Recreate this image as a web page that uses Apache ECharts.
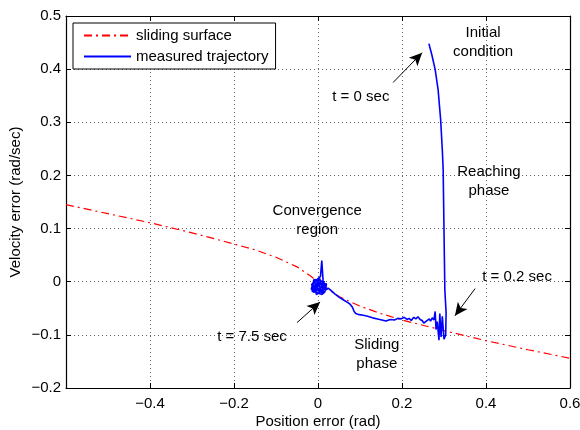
<!DOCTYPE html>
<html>
<head>
<meta charset="utf-8">
<script src="https://cdn.jsdelivr.net/npm/echarts@6/dist/echarts.min.js"></script>
<style>html,body{margin:0;padding:0;background:#fff}#c{width:580px;height:430px}</style>
</head>
<body>
<div id="c"></div>
<script>
// ---- data ----
var xTicks = [-0.6, -0.4, -0.2, 0, 0.2, 0.4, 0.6];
var yTicks = [-0.2, -0.1, 0, 0.1, 0.2, 0.3, 0.4, 0.5];

var surfaceX = [-0.6, -0.5, -0.4, -0.3, -0.2, -0.15, -0.1, -0.05, -0.02, 0, 0.02, 0.05, 0.1, 0.15, 0.2, 0.3, 0.4, 0.5, 0.6];
var surfaceY = [0.145, 0.128, 0.111, 0.092, 0.071, 0.060, 0.046, 0.028, 0.012, 0, -0.012, -0.028, -0.046, -0.060, -0.072, -0.092, -0.111, -0.128, -0.144];

var trajX = [0.264, 0.271, 0.279, 0.286, 0.292, 0.296, 0.298, 0.299, 0.301, 0.302, 0.305, 0.304, 0.300,
  0.296, 0.293, 0.290, 0.288, 0.284, 0.281, 0.279, 0.276, 0.272, 0.268,
  0.265, 0.258, 0.252, 0.248, 0.243, 0.238, 0.233, 0.228, 0.222, 0.217, 0.212, 0.205, 0.198, 0.190, 0.182, 0.172, 0.162, 0.152, 0.142, 0.130, 0.118, 0.108, 0.098, 0.090, 0.086, 0.082, 0.076, 0.070, 0.060, 0.050, 0.040, 0.030, 0.024,
  0.018, 0.020, -0.012, -0.016, 0.016, 0.019, -0.010, -0.014, 0.010, 0.012, 0.009, 0.006, -0.016, 0.018, -0.004, -0.008, 0.016, -0.014, 0.014, 0.004, -0.012, 0.020, -0.006, 0.002, 0.012, -0.010, 0.008, 0.000, 0.006];
var trajY = [0.448, 0.427, 0.399, 0.361, 0.305, 0.248, 0.211, 0.154, 0.041, -0.015, -0.058, -0.100, -0.108,
  -0.065, -0.104, -0.060, -0.110, -0.075, -0.090, -0.056, -0.072, -0.068, -0.074,
  -0.070, -0.074, -0.078, -0.073, -0.071, -0.066, -0.070, -0.067, -0.073, -0.069, -0.071, -0.067, -0.070, -0.069, -0.072, -0.071, -0.074, -0.072, -0.070, -0.068, -0.065, -0.063, -0.062, -0.060, -0.056, -0.048, -0.042, -0.039, -0.034, -0.029, -0.023, -0.016, -0.012,
  -0.016, -0.004, -0.002, -0.014, -0.020, -0.008, 0.004, -0.018, -0.024, 0.004, 0.040, 0.010, -0.006, -0.012, -0.024, 0.004, 0.000, -0.012, -0.022, 0.006, -0.020, -0.006, -0.002, -0.018, -0.004, -0.010, -0.016, -0.006, -0.010];

var notes = [
  {text: 'Initial\ncondition', x: 0.393, y: 0.451},
  {text: 't = 0 sec', x: 0.102, y: 0.348},
  {text: 'Reaching\nphase', x: 0.407, y: 0.189},
  {text: 'Convergence\nregion', x: -0.002, y: 0.115},
  {text: 't = 0.2 sec', x: 0.474, y: 0.010},
  {text: 't = 7.5 sec', x: -0.157, y: -0.1035},
  {text: 'Sliding\nphase', x: 0.140, y: -0.136}
];
var arrows = [
  {from: [0.179, 0.375], to: [0.248, 0.431]},
  {from: [0.374, -0.013], to: [0.326, -0.064]},
  {from: [-0.050, -0.077], to: [0.005, -0.038]}
];

// ---- build ----
function zip(a, b) { return a.map(function (v, i) { return [v, b[i]]; }); }
function fmt(v) {
  var r = Math.round(v * 10) / 10;
  return String(r).replace('-', '\u2212');
}
var FONT = 'Liberation Sans';
var FS = 15;

var gridLine = {show: true, lineStyle: {color: '#666', type: [1, 3], width: 1}};
var axLine = {show: true, onZero: false, lineStyle: {color: '#000', width: 1.2}};
var tick = {show: true, inside: true, length: 5, lineStyle: {color: '#000', width: 1}};

var chart = echarts.init(document.getElementById('c'), null, {renderer: 'canvas'});
chart.setOption({
  animation: false,
  backgroundColor: '#fff',
  textStyle: {fontFamily: FONT},
  grid: {left: 66, right: 10, top: 16, bottom: 42, containLabel: false, outerBoundsMode: 'none'},
  legend: {
    show: true, orient: 'vertical', left: 73, top: 23,
    data: ['sliding surface', 'measured trajectory'],
    selectedMode: false,
    backgroundColor: '#fff', borderColor: '#000', borderWidth: 1, borderRadius: 0,
    padding: [5, 7, 5, 10], itemGap: 6, itemWidth: 47, itemHeight: 14,
    itemStyle: {opacity: 0},
    textStyle: {fontFamily: FONT, fontSize: FS, color: '#000'}
  },
  xAxis: [{
    type: 'value', min: xTicks[0], max: xTicks[xTicks.length - 1], interval: 0.2,
    name: 'Position error (rad)', nameLocation: 'middle', nameGap: 26, nameMoveOverlap: false,
    nameTextStyle: {fontFamily: FONT, fontSize: FS, color: '#000'},
    axisLine: axLine, axisTick: tick, splitLine: gridLine,
    axisLabel: {show: true, showMinLabel: false, margin: 8, color: '#000', fontFamily: FONT, fontSize: FS, formatter: fmt}
  }, {
    type: 'value', position: 'top', min: xTicks[0], max: xTicks[xTicks.length - 1], interval: 0.2,
    axisLine: axLine, axisTick: tick, splitLine: {show: false}, axisLabel: {show: false}
  }],
  yAxis: [{
    type: 'value', min: yTicks[0], max: yTicks[yTicks.length - 1], interval: 0.1,
    name: 'Velocity error (rad/sec)', nameLocation: 'middle', nameGap: 43, nameMoveOverlap: false,
    nameTextStyle: {fontFamily: FONT, fontSize: FS, color: '#000'},
    axisLine: axLine, axisTick: tick, splitLine: gridLine,
    axisLabel: {show: true, margin: 5, color: '#000', fontFamily: FONT, fontSize: FS, formatter: fmt}
  }, {
    type: 'value', position: 'right', min: yTicks[0], max: yTicks[yTicks.length - 1], interval: 0.1,
    axisLine: axLine, axisTick: tick, splitLine: {show: false}, axisLabel: {show: false}
  }],
  series: [{
    name: 'sliding surface', type: 'line', symbol: 'none', showSymbol: false, smooth: false,
    xAxisIndex: 0, yAxisIndex: 0,
    data: zip(surfaceX, surfaceY),
    lineStyle: {color: '#ff0000', width: 1.2, type: [8, 4, 2, 4]},
    itemStyle: {color: '#ff0000'},
    z: 2
  }, {
    name: 'measured trajectory', type: 'line', symbol: 'none', showSymbol: false, smooth: false,
    xAxisIndex: 0, yAxisIndex: 0,
    data: zip(trajX, trajY),
    lineStyle: {color: '#0000ff', width: 1.6},
    itemStyle: {color: '#0000ff'},
    z: 3,
    markLine: {
      silent: true, animation: false,
      label: {show: false},
      lineStyle: {color: '#000', width: 1, type: 'solid'},
      data: arrows.map(function (a) {
        return [{coord: a.from, symbol: 'none'}, {coord: a.to, symbol: 'arrow', symbolSize: [9, 13]}];
      })
    },
    markPoint: {
      silent: true, animation: false,
      data: notes.map(function (n) {
        return {
          coord: [n.x, n.y], symbol: 'circle', symbolSize: 0,
          itemStyle: {color: 'transparent'},
          label: {show: true, position: 'inside', formatter: n.text, color: '#000',
            fontFamily: FONT, fontSize: FS, lineHeight: 19, align: 'center', verticalAlign: 'middle'}
        };
      })
    }
  }]
});
</script>
</body>
</html>
